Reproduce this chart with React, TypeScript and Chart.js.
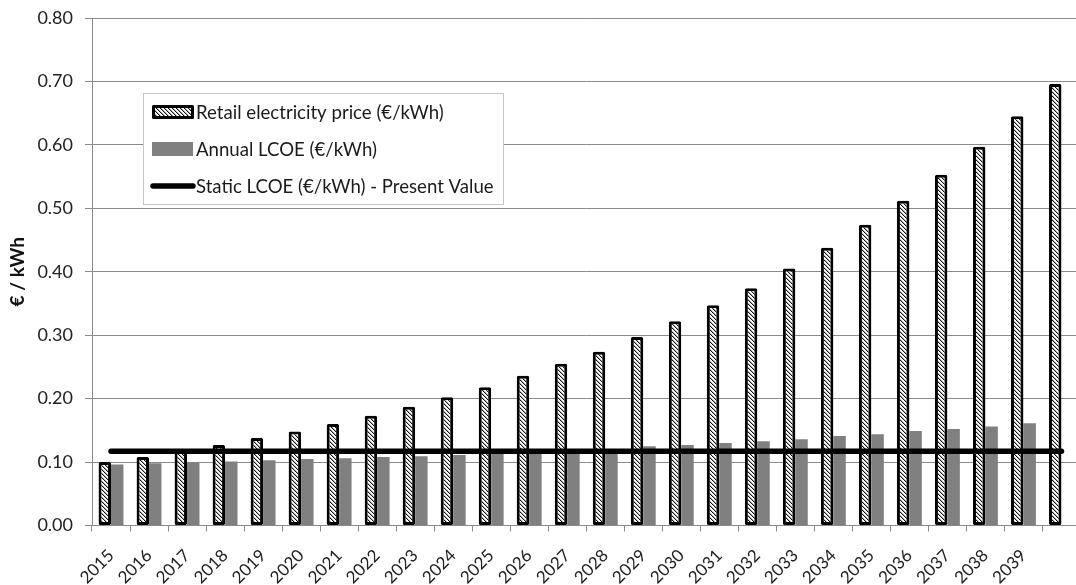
import React, { useEffect, useRef } from 'react';
import { Chart, registerables } from 'chart.js';

Chart.register(...registerables);

const categories = [
  '2015', '2016', '2017', '2018', '2019', '2020', '2021', '2022', '2023', '2024',
  '2025', '2026', '2027', '2028', '2029', '2030', '2031', '2032', '2033', '2034',
  '2035', '2036', '2037', '2038', '2039', '',
];

const retailPrice = [
  0.100, 0.108, 0.118, 0.127, 0.138, 0.148, 0.160, 0.173, 0.187, 0.202,
  0.218, 0.236, 0.255, 0.274, 0.297, 0.322, 0.347, 0.374, 0.405, 0.438,
  0.474, 0.512, 0.553, 0.597, 0.645, 0.696,
];

const annualLcoe = [
  0.096, 0.098, 0.100, 0.101, 0.103, 0.105, 0.106, 0.108, 0.109, 0.111,
  0.113, 0.115, 0.117, 0.120, 0.125, 0.127, 0.130, 0.133, 0.136, 0.141,
  0.144, 0.149, 0.152, 0.156, 0.161, null,
];

const staticLcoe = [
  0.117, 0.117, 0.117, 0.117, 0.117, 0.117, 0.117, 0.117, 0.117, 0.117,
  0.117, 0.117, 0.117, 0.117, 0.117, 0.117, 0.117, 0.117, 0.117, 0.117,
  0.117, 0.117, 0.117, 0.117, 0.117, 0.117,
];

const seriesLabels = [
  'Retail electricity price (€/kWh)',
  'Annual LCOE (€/kWh)',
  'Static LCOE (€/kWh) - Present Value',
];

const yAxisTitle = '€ / kWh';

function makeHatch(): CanvasPattern | string {
  const c = document.createElement('canvas');
  c.width = 4;
  c.height = 4;
  const g = c.getContext('2d');
  if (!g) return '#aaa';
  g.fillStyle = '#ffffff';
  g.fillRect(0, 0, 4, 4);
  for (let i = 0; i < 4; i++) {
    g.fillStyle = '#111111';
    g.fillRect(i, i, 1, 1);
    g.fillStyle = '#b0b0b0';
    g.fillRect((i + 1) % 4, i, 1, 1);
  }
  return g.createPattern(c, 'repeat') || '#aaa';
}

export default function App() {
  const ref = useRef<HTMLCanvasElement | null>(null);

  useEffect(() => {
    if (!ref.current) return;
    const hatch = makeHatch();
    const gray = '#808080';

    const boxLegend = {
      id: 'boxLegend',
      afterDraw(chart: any) {
        const ctx = chart.ctx as CanvasRenderingContext2D;
        ctx.save();
        ctx.fillStyle = '#ffffff';
        ctx.fillRect(143, 93, 360, 111);
        ctx.strokeStyle = '#c4c4c4';
        ctx.lineWidth = 1;
        ctx.strokeRect(143.5, 93.5, 360, 111);

        const rowsY = [112, 149, 186];
        const textX = 196;
        ctx.font = '18.6px Lato';
        ctx.textBaseline = 'middle';
        ctx.textAlign = 'left';

        ctx.fillStyle = hatch as any;
        ctx.fillRect(153, 106, 40, 12);
        ctx.strokeStyle = '#000';
        ctx.lineWidth = 3;
        ctx.lineJoin = 'round';
        ctx.strokeRect(153.5, 106.5, 39, 11);

        ctx.fillStyle = gray;
        ctx.fillRect(152, 142, 41, 14);

        ctx.strokeStyle = '#000';
        ctx.lineWidth = 5.5;
        ctx.lineCap = 'round';
        ctx.beginPath();
        ctx.moveTo(153, rowsY[2]);
        ctx.lineTo(193, rowsY[2]);
        ctx.stroke();

        ctx.fillStyle = '#1a1a1a';
        const ds = chart.data.datasets;
        for (let i = 0; i < ds.length; i++) {
          ctx.fillText(ds[i].label, textX, rowsY[i] + 1);
        }
        ctx.restore();
      },
    };

    const chart = new Chart(ref.current, {
      type: 'bar',
      data: {
        labels: categories,
        datasets: [
          {
            type: 'bar',
            label: seriesLabels[0],
            data: retailPrice,
            backgroundColor: hatch as any,
            borderColor: '#000000',
            borderWidth: 3,
            borderSkipped: false,
            borderRadius: 1.5,
            categoryPercentage: 0.655,
            barPercentage: 1,
            order: 1,
          },
          {
            type: 'bar',
            label: seriesLabels[1],
            data: annualLcoe,
            backgroundColor: gray,
            borderWidth: 0,
            categoryPercentage: 0.655,
            barPercentage: 1,
            order: 1,
          },
          {
            type: 'line',
            label: seriesLabels[2],
            data: staticLcoe,
            borderColor: '#000000',
            borderWidth: 5.5,
            borderCapStyle: 'round',
            pointRadius: 0,
            tension: 0,
            fill: false,
            order: 0,
          },
        ] as any,
      },
      options: {
        animation: false,
        responsive: false,
        maintainAspectRatio: false,
        layout: { padding: { top: 18, right: 6, left: 0, bottom: 0 } },
        plugins: {
          legend: { display: false },
          tooltip: { enabled: false },
        },
        scales: {
          x: {
            offset: true,
            grid: {
              offset: true,
              drawOnChartArea: false,
              drawTicks: true,
              tickLength: 6,
              color: '#8a8a8a',
            },
            border: { color: '#8a8a8a', width: 1 },
            ticks: {
              autoSkip: false,
              maxRotation: 45,
              minRotation: 45,
              padding: 14,
              font: { family: 'Lato', size: 17 },
              color: '#222222',
            },
            afterFit: (s: any) => {
              s.height = 59.5;
            },
          },
          y: {
            min: 0,
            max: 0.8,
            ticks: {
              stepSize: 0.1,
              callback: (v: any) => Number(v).toFixed(2),
              padding: 12,
              font: { family: 'Lato', size: 18 },
              color: '#222222',
            },
            grid: { color: '#8a8a8a', tickLength: 7, drawTicks: true },
            border: { color: '#8a8a8a' },
            title: {
              display: true,
              text: yAxisTitle,
              font: { family: 'Lato', size: 19, weight: 'bold' },
              color: '#111111',
              padding: { top: 6, bottom: 0 },
            },
            afterFit: (s: any) => {
              s.width = 92;
              s.paddingTop = 0;
              s.paddingBottom = 0;
            },
          },
        },
      } as any,
      plugins: [boxLegend],
    });

    return () => chart.destroy();
  }, []);

  return (
    <div
      style={{
        position: 'fixed',
        left: 0,
        top: 0,
        width: 1076,
        height: 585,
        overflow: 'hidden',
        background: '#ffffff',
      }}
    >
      <canvas ref={ref} width={1090} height={585} style={{ display: 'block', width: 1090, height: 585 }} />
    </div>
  );
}
